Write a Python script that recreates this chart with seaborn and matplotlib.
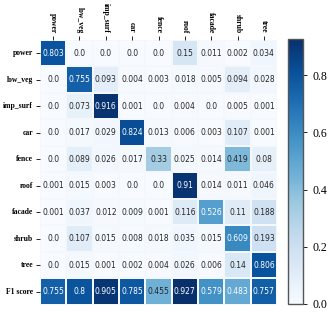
import numpy as np
import matplotlib
matplotlib.use("Agg")
import matplotlib.pyplot as plt
import seaborn as sns

classes = ["power", "low_veg", "imp_surf", "car", "fence", "roof", "facade", "shrub", "tree"]
row_labels = classes + ["F1 score"]

power = [0.803, 0.0, 0.0, 0.0, 0.0, 0.15, 0.011, 0.002, 0.034]
low_veg = [0.0, 0.755, 0.093, 0.004, 0.003, 0.018, 0.005, 0.094, 0.028]
imp_surf = [0.0, 0.073, 0.916, 0.001, 0.0, 0.004, 0.0, 0.005, 0.001]
car = [0.0, 0.017, 0.029, 0.824, 0.013, 0.006, 0.003, 0.107, 0.001]
fence = [0.0, 0.089, 0.026, 0.017, 0.33, 0.025, 0.014, 0.419, 0.08]
roof = [0.001, 0.015, 0.003, 0.0, 0.0, 0.91, 0.014, 0.011, 0.046]
facade = [0.001, 0.037, 0.012, 0.009, 0.001, 0.116, 0.526, 0.11, 0.188]
shrub = [0.0, 0.107, 0.015, 0.008, 0.018, 0.035, 0.015, 0.609, 0.193]
tree = [0.0, 0.015, 0.001, 0.002, 0.004, 0.026, 0.006, 0.14, 0.806]
f1_score = [0.755, 0.8, 0.905, 0.785, 0.455, 0.927, 0.579, 0.483, 0.757]

matrix = np.array([power, low_veg, imp_surf, car, fence, roof, facade, shrub, tree, f1_score])
annot = np.array([[str(v) for v in row] for row in matrix])

fig = plt.figure(figsize=(3.33, 3.14), dpi=100)
ax = fig.add_axes([0.12, 0.029, 0.712, 0.844])
cax = fig.add_axes([0.865, 0.032, 0.045, 0.844])

sns.heatmap(matrix, ax=ax, cbar_ax=cax, cmap="Blues", annot=annot, fmt="",
            annot_kws={"fontsize": 5.5}, linewidths=0.15, linecolor="#f4f8fc",
            xticklabels=classes, yticklabels=row_labels, vmin=0.0)

# text colour: dark on light cells, white on darker ones
for txt, val in zip(ax.texts, matrix.ravel()):
    txt.set_color("#262626" if val < 0.47 else "white")

ax.xaxis.tick_top()
ax.set_xticklabels(classes, rotation=-90, fontsize=5.5, family="Liberation Serif",
                   fontweight="bold", va="bottom")
ax.set_yticklabels(row_labels, rotation=0, fontsize=5.5, family="Liberation Serif",
                   fontweight="bold")
ax.tick_params(length=3, width=0.6, pad=2)

cb = ax.collections[0].colorbar
cb.outline.set_visible(True)
cb.outline.set_linewidth(1.0)
cb.outline.set_edgecolor("#555555")
cb.set_ticks([0.0, 0.2, 0.4, 0.6, 0.8])
for t in cax.get_yticklabels():
    t.set_family("Liberation Serif")
    t.set_fontsize(8.5)
cax.tick_params(length=3, width=0.6)

fig.savefig("out.png", dpi=100)
